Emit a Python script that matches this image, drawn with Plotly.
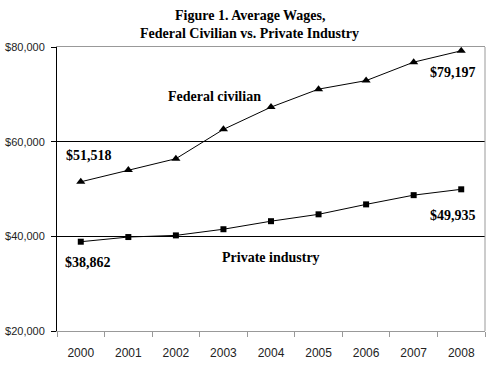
import plotly.graph_objects as go

years = ["2000", "2001", "2002", "2003", "2004", "2005", "2006", "2007", "2008"]
federal = [51518, 54000, 56400, 62600, 67300, 71100, 72900, 76800, 79197]
private = [38862, 39850, 40200, 41500, 43200, 44650, 46750, 48700, 49935]
y_ticks = [20000, 40000, 60000, 80000]
y_tick_labels = ["$20,000", "$40,000", "$60,000", "$80,000"]
title_lines = ["Figure 1. Average Wages,", "Federal Civilian vs. Private Industry"]

serif = "Liberation Serif, Times New Roman, serif"
sans = "Liberation Sans, Arial, sans-serif"

fig = go.Figure()
fig.add_trace(go.Scatter(x=years, y=federal, mode="lines+markers",
                         line=dict(color="black", width=1),
                         marker=dict(symbol="triangle-up", size=8, color="black"),
                         name="Federal civilian"))
fig.add_trace(go.Scatter(x=years, y=private, mode="lines+markers",
                         line=dict(color="black", width=1),
                         marker=dict(symbol="square", size=6, color="black"),
                         name="Private industry"))

ann_font = dict(family=serif, size=14, color="black")
annos = [
    dict(x=2.82, y=69500, text="<b>Federal civilian</b>"),
    dict(x=0.17, y=57000, text="<b>$51,518</b>"),
    dict(x=7.82, y=74700, text="<b>$79,197</b>"),
    dict(x=0.15, y=34400, text="<b>$38,862</b>"),
    dict(x=7.82, y=44400, text="<b>$49,935</b>"),
    dict(x=4.01, y=35600, text="<b>Private industry</b>"),
]
for a in annos:
    fig.add_annotation(x=a["x"], y=a["y"], text=a["text"], showarrow=False,
                       xref="x", yref="y", font=ann_font)

# title as two centered lines above the plot
title_font = dict(family=serif, size=14, color="black")
fig.add_annotation(x=0.45, y=1, xref="paper", yref="paper", yanchor="middle",
                   yshift=32, showarrow=False, text="<b>" + title_lines[0] + "</b>",
                   font=title_font)
fig.add_annotation(x=0.45, y=1, xref="paper", yref="paper", yanchor="middle",
                   yshift=14, showarrow=False, text="<b>" + title_lines[1] + "</b>",
                   font=title_font)

fig.add_shape(type="line", xref="paper", yref="paper", x0=1, x1=1, y0=0, y1=1,
              line=dict(color="#999999", width=1))

fig.update_layout(
    width=500, height=368,
    margin=dict(l=57, r=15, t=47, b=37, autoexpand=False),
    paper_bgcolor="white", plot_bgcolor="white",
    showlegend=False,
    xaxis=dict(type="category", range=[-0.5, 8.5], tickson="boundaries",
               ticks="outside", ticklen=5, tickcolor="#999999",
               showline=True, linecolor="#999999", mirror=True, linewidth=1,
               showgrid=False, automargin=False,
               tickfont=dict(family=sans, size=12, color="#222222"),
               ticklabelstandoff=11),
    yaxis=dict(range=[20000, 80000], tickvals=y_ticks, ticktext=y_tick_labels,
               ticks="outside", ticklen=5, tickcolor="black",
               showline=True, linecolor="black", linewidth=1, automargin=False,
               showgrid=True, gridcolor="black", gridwidth=1, zeroline=False,
               tickfont=dict(family=sans, size=11, color="#222222"),
               ticklabelstandoff=4),
)

# remove the browser's default 8px body margin so the figure fills the window
fig.write_html("out.html", config={"displayModeBar": False},
               post_script="document.body.style.margin='0';")
